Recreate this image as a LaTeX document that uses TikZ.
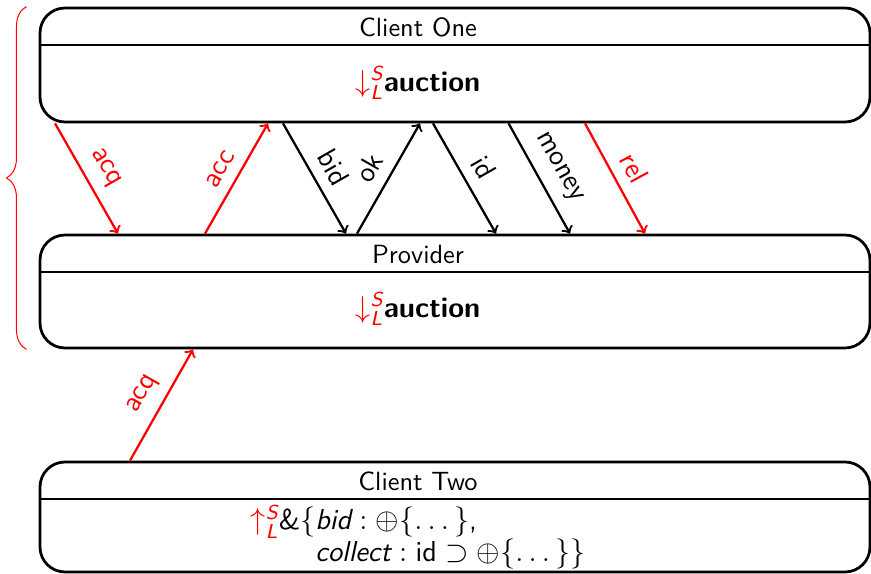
\documentclass[tikz,border=0pt]{standalone}
\usepackage{amsmath, amssymb}
\usetikzlibrary{decorations.pathreplacing}

\newcommand{\fld}[1]{\text{\itshape #1}}
\newcommand{\downS}{\textcolor{red}{\downarrow^{\fld{S}}_{\fld{L}}}}
\newcommand{\upS}{\textcolor{red}{\uparrow^{\fld{S}}_{\fld{L}}}}

\begin{document}
\begin{tikzpicture}[
    font=\sffamily\fontsize{10.5}{12.6}\selectfont,
    proc/.style={draw, line width=1.1pt, rounded corners=0.35cm, minimum width=11.62cm, inner sep=0pt},
    type/.style={font=\sffamily\fontsize{11.5}{12.7}\selectfont},
    msg/.style={->, line width=0.9pt},
    lbl/.style={midway, sloped, above=1pt, font=\sffamily\fontsize{11.5}{13.8}\selectfont}
]
    \useasboundingbox (0,0) rectangle (12.194,8.036);

    % the three processes
    \node[proc, minimum height=1.596cm] (one) at (6.37,7.126) {};
    \node[proc, minimum height=1.582cm] (prov) at (6.37,3.955) {};
    \node[proc, minimum height=1.54cm] (two) at (6.37,0.798) {};

    \draw[line width=1.1pt] (0,7.406 -| one.west) -- (0,7.406 -| one.east);
    \draw[line width=1.1pt] (0,4.228 -| prov.west) -- (0,4.228 -| prov.east);
    \draw[line width=1.1pt] (0,1.05 -| two.west) -- (0,1.05 -| two.east);

    \node (one-title) at (5.852,7.658) {Client One};
    \node[type] (one-type) at (5.852,6.874) {$\downS$\textbf{auction}};
    \node (prov-title) at (5.852,4.466) {Provider};
    \node[type] (prov-type) at (5.852,3.71) {$\downS$\textbf{auction}};
    \node (two-title) at (5.852,1.302) {Client Two};
    \node[type, align=left] (two-type) at (5.852,0.518)
        {$\upS\text{\&}\{\fld{bid} : \oplus\{\dots\}$,\\
         $\hphantom{\upS\text{\&}\{}\fld{collect} : \text{id} \supset \oplus\{\dots\}\}$};

    % messages between client one and the provider
    \foreach \i/\from/\xa/\to/\xb/\col/\txt in {
        1/one.south/0.77/prov.north/1.652/red/acq,
        2/prov.north/2.87/one.south/3.752/red/acc,
        3/one.south/3.962/prov.north/4.844/black/bid,
        4/prov.north/4.998/one.south/5.88/black/ok,
        5/one.south/6.062/prov.north/6.944/black/id,
        6/one.south/7.12/prov.north/7.98/black/money,
        7/one.south/8.19/prov.north/9.03/red/rel} {
        \coordinate (m\i-a) at (\xa,0 |- \from);
        \coordinate (m\i-b) at (\xb,0 |- \to);
        \draw[msg, \col] (m\i-a) -- (m\i-b) node[lbl] {\txt};
    }

    % client two joins
    \coordinate (j-a) at (1.82,0 |- two.north);
    \coordinate (j-b) at (2.702,0 |- prov.south);
    \draw[msg, red] (j-a) -- (j-b) node[lbl] {acq};

    \coordinate (brace-bot) at ([xshift=-0.17cm]prov.south west);
    \coordinate (brace-top) at ([xshift=-0.17cm]one.north west);
    \draw[red, thin, decorate, decoration={brace, amplitude=0.28cm}] (brace-bot) -- (brace-top);
\end{tikzpicture}
\end{document}
